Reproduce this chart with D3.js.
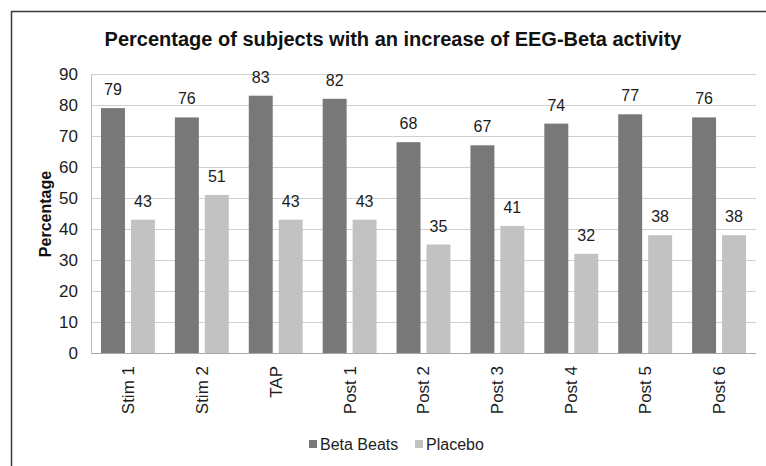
<!DOCTYPE html>
<html>
<head>
<meta charset="utf-8">
<script src="https://cdn.jsdelivr.net/npm/d3@7/dist/d3.min.js"></script>
<style>
  html, body { margin: 0; padding: 0; background: #fff; }
  svg { display: block; font-family: "Liberation Sans", Arial, sans-serif; }
</style>
</head>
<body>
<svg id="chart" width="766" height="466"></svg>
<script>
// Session categories and the two series
const categories = ["Stim 1", "Stim 2", "TAP", "Post 1", "Post 2", "Post 3", "Post 4", "Post 5", "Post 6"];
const seriesNames = ["Beta Beats", "Placebo"];
const betaBeats = [79, 76, 83, 82, 68, 67, 74, 77, 76];
const placebo = [43, 51, 43, 43, 35, 41, 32, 38, 38];
const yTicks = [0, 10, 20, 30, 40, 50, 60, 70, 80, 90];

const colors = { "Beta Beats": "#787878", "Placebo": "#c2c2c2" };
const textColor = "#1c1c1c";

const svg = d3.select("#chart");

// outer frame (left and top edges)
svg.append("path")
  .attr("d", "M11.5,466 V11.5 H766")
  .attr("fill", "none")
  .attr("stroke", "#3a3a3a")
  .attr("stroke-width", 1.5);

const plot = { left: 91, right: 756, top: 74, bottom: 353 };

const x0 = d3.scaleBand().domain(categories).range([plot.left, plot.right]);
const x1 = d3.scaleBand().domain(seriesNames).range([10, x0.step() - 10]).paddingInner(0.2);
const y = d3.scaleLinear().domain([0, 90]).range([plot.bottom, plot.top]);

// horizontal gridlines
svg.append("g")
  .selectAll("line")
  .data(yTicks)
  .join("line")
  .attr("x1", plot.left).attr("x2", plot.right)
  .attr("y1", d => Math.round(y(d)) + 0.5).attr("y2", d => Math.round(y(d)) + 0.5)
  .attr("stroke", d => d === 0 ? "#a8a8a8" : "#cfcfcf")
  .attr("stroke-width", 1);

// left axis line
svg.append("line")
  .attr("x1", plot.left + 0.5).attr("x2", plot.left + 0.5)
  .attr("y1", plot.top).attr("y2", plot.bottom)
  .attr("stroke", "#bdbdbd");

// y axis tick labels
const yAxis = d3.axisLeft(y).tickValues(yTicks).tickSize(0).tickPadding(13);
const yg = svg.append("g").attr("transform", `translate(${plot.left},0)`).call(yAxis);
yg.select(".domain").remove();
yg.selectAll("text")
  .attr("font-size", 17)
  .attr("fill", textColor)
  .attr("font-family", "Liberation Sans, Arial, sans-serif");

// x axis category labels (rotated)
const xAxis = d3.axisBottom(x0).tickSize(0).tickPadding(0);
const xg = svg.append("g").attr("transform", `translate(0,${plot.bottom})`).call(xAxis);
xg.select(".domain").remove();
xg.selectAll("text")
  .attr("font-size", 17)
  .attr("fill", textColor)
  .attr("font-family", "Liberation Sans, Arial, sans-serif")
  .attr("transform", "rotate(-90)")
  .attr("text-anchor", "end")
  .attr("x", -13)
  .attr("y", 0)
  .attr("dy", "0.35em");

// bars
const rows = categories.map((c, i) => ({ cat: c, values: [
  { name: "Beta Beats", v: betaBeats[i] },
  { name: "Placebo", v: placebo[i] }
]}));

const groups = svg.append("g")
  .selectAll("g")
  .data(rows)
  .join("g")
  .attr("transform", d => `translate(${x0(d.cat)},0)`);

groups.selectAll("rect")
  .data(d => d.values)
  .join("rect")
  .attr("x", d => x1(d.name))
  .attr("width", x1.bandwidth())
  .attr("y", d => y(d.v))
  .attr("height", d => y(0) - y(d.v))
  .attr("fill", d => colors[d.name]);

// value labels above bars
groups.selectAll("text")
  .data(d => d.values)
  .join("text")
  .attr("x", d => x1(d.name) + x1.bandwidth() / 2)
  .attr("y", d => y(d.v) - 13)
  .attr("text-anchor", "middle")
  .attr("font-size", 16)
  .attr("fill", textColor)
  .text(d => d.v);

// title
svg.append("text")
  .attr("x", 393)
  .attr("y", 46)
  .attr("text-anchor", "middle")
  .attr("font-size", 20)
  .attr("font-weight", "bold")
  .attr("fill", "#111")
  .text("Percentage of subjects with an increase of EEG-Beta activity");

// y axis title
svg.append("text")
  .attr("transform", "translate(51,214) rotate(-90)")
  .attr("text-anchor", "middle")
  .attr("font-size", 16)
  .attr("font-weight", "bold")
  .attr("fill", "#111")
  .text("Percentage");

// legend
const legendItems = [
  { name: "Beta Beats", x: 309 },
  { name: "Placebo", x: 415 }
];
const lg = svg.append("g");
lg.selectAll("rect")
  .data(legendItems)
  .join("rect")
  .attr("x", d => d.x).attr("y", 440)
  .attr("width", 8).attr("height", 8)
  .attr("fill", d => colors[d.name]);
lg.selectAll("text")
  .data(legendItems)
  .join("text")
  .attr("x", d => d.x + 11)
  .attr("y", 450)
  .attr("font-size", 16)
  .attr("fill", textColor)
  .text(d => d.name);
</script>
</body>
</html>
